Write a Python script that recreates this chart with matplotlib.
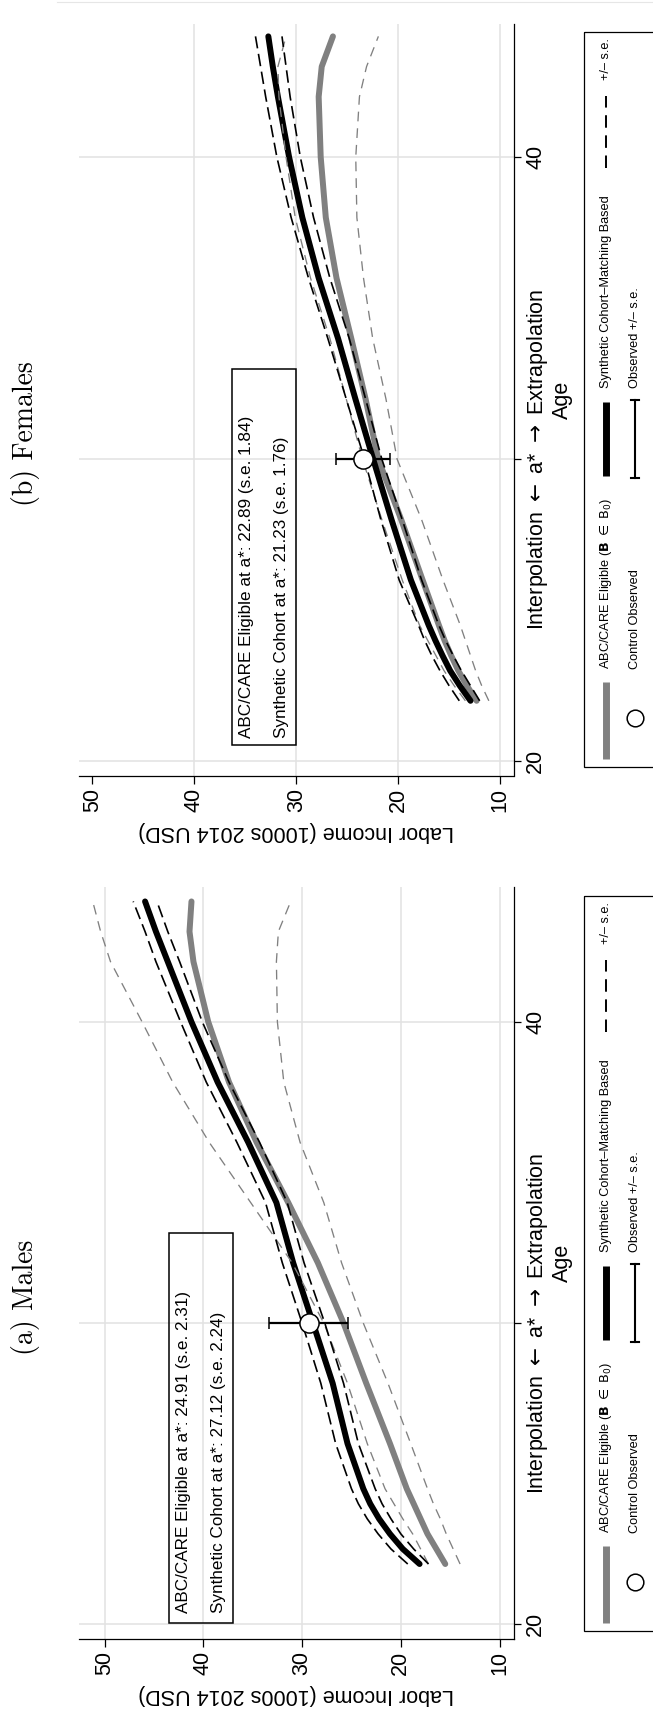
import matplotlib
matplotlib.use('Agg')
import matplotlib.pyplot as plt
from matplotlib.patches import Rectangle

plt.rcParams['font.family'] = ['Liberation Sans', 'DejaVu Sans']
plt.rcParams['lines.scale_dashes'] = False

# ---------------- data ----------------
AGES = [22, 22.5, 23, 23.5, 24, 24.5, 26, 28, 30, 32, 34, 36, 38, 40, 42, 43, 44]

# Males
M_ABC = [15.5, 16.4, 17.3, 18.0, 18.7, 19.4, 21.1, 23.5, 25.8, 28.4, 31.4, 34.6, 37.4, 39.5, 41.0, 41.4, 41.2]
M_ABC_HI = [17.2, 18.0, 18.8, 19.8, 20.7, 21.6, 23.4, 25.4, 27.8, 31.0, 35.2, 39.4, 43.1, 46.2, 49.4, 50.4, 51.2]
M_ABC_LO = [14.0, 14.7, 15.4, 16.0, 16.7, 17.3, 19.0, 21.3, 23.8, 26.0, 27.8, 30.2, 31.85, 32.5, 32.6, 32.4, 31.15]
M_SYN = [18.1, 19.8, 21.1, 22.2, 23.1, 23.8, 25.4, 26.9, 28.9, 30.9, 32.6, 35.45, 38.55, 41.2, 43.6, 44.8, 45.9]
M_SYN_HI = [19.3, 21.0, 22.3, 23.4, 24.3, 25.0, 26.6, 28.1, 30.0, 32.0, 33.7, 36.6, 39.7, 42.3, 44.8, 45.9, 47.1]
M_SYN_LO = [17.2, 18.7, 20.0, 21.0, 21.9, 22.6, 24.3, 25.8, 27.7, 29.8, 31.5, 34.3, 37.4, 40.1, 42.4, 43.6, 44.7]
M_OBS = 29.3
M_OBS_SE = 4.0

# Females
F_ABC = [12.3, 13.25, 14.1, 14.8, 15.45, 16.0, 17.6, 19.7, 21.95, 23.2, 24.6, 26.05, 27.1, 27.6, 27.8, 27.5, 26.4]
F_ABC_HI = [13.4, 14.5, 15.5, 16.3, 17.1, 17.9, 19.6, 21.6, 23.5, 25.1, 26.7, 28.6, 30.1, 31.0, 31.7, 31.8, 31.0]
F_ABC_LO = [11.1, 11.8, 12.4, 12.9, 13.4, 13.9, 15.6, 17.7, 20.1, 21.2, 22.5, 23.4, 24.05, 24.16, 23.8, 23.1, 21.94]
F_SYN = [12.9, 13.95, 14.9, 15.65, 16.35, 17.0, 18.75, 20.65, 22.45, 24.2, 25.9, 27.8, 29.4, 30.7, 31.8, 32.3, 32.74]
F_SYN_HI = [14.0, 15.0, 15.9, 16.7, 17.4, 18.0, 19.9, 21.7, 23.3, 25.1, 26.9, 28.8, 30.5, 31.9, 33.0, 33.5, 34.0]
F_SYN_LO = [12.0, 12.9, 13.8, 14.6, 15.35, 16.0, 17.7, 19.6, 21.6, 23.2, 24.8, 26.7, 28.3, 29.6, 30.6, 31.0, 31.4]
F_OBS = 23.45
F_OBS_SE = 2.65

A_STAR = 30
AGE_TICKS = [20, 30, 40]
AGE_TICK_LABELS = ['20', 'Interpolation $\\leftarrow$ a* $\\rightarrow$ Extrapolation', '40']
INCOME_TICKS = [50, 40, 30, 20, 10]

M_BOX_LINES = ['ABC/CARE Eligible at a*: 24.91 (s.e. 2.31)',
               'Synthetic Cohort at a*: 27.12 (s.e. 2.24)']
F_BOX_LINES = ['ABC/CARE Eligible at a*: 22.89 (s.e. 1.84)',
               'Synthetic Cohort at a*: 21.23 (s.e. 1.76)']

LEGEND_LABELS = ['ABC/CARE Eligible ($\\mathbf{B}$ $\\in$ $\\mathrm{B}_0$)',
                 'Synthetic Cohort\u2013Matching Based',
                 '+/\u2013 s.e.',
                 'Control Observed',
                 'Observed +/\u2013 s.e.']

# ---------------- style ----------------
GRAY = '#808080'
GRID = '#e2e2e2'
W, H = 653, 1711
TICK_FS = 15.5
BOX_FS = 12.3
LEG_FS = 9.2

fig = plt.figure(figsize=(W / 100, H / 100), dpi=100)

# overlay in pixel coordinates (legend, frame line, titles)
ov = fig.add_axes([0, 0, 1, 1])
ov.set_xlim(0, W)
ov.set_ylim(H, 0)
ov.axis('off')


def px_axes(left, top, right, bottom):
    return fig.add_axes([left / W, 1 - bottom / H, (right - left) / W, (bottom - top) / H])


def draw_panel(ax, abc, abc_hi, abc_lo, syn, syn_hi, syn_lo, obs, obs_se,
               xlim, ylim, hide_first_grid, box, box_lines, text_x, text_y):
    ax.set_facecolor('none')
    ax.set_xlim(*xlim)
    ax.set_ylim(*ylim)
    ax.set_xticks(INCOME_TICKS)
    ax.set_xticklabels([str(t) for t in INCOME_TICKS], rotation=90, fontsize=TICK_FS)
    ax.set_yticks(AGE_TICKS)
    ax.yaxis.tick_right()
    ax.set_yticklabels(AGE_TICK_LABELS, rotation=90, fontsize=TICK_FS, va='center')
    ax.tick_params(axis='x', direction='out', length=5.8, width=0.9, pad=3)
    ax.tick_params(axis='y', direction='out', length=5.0, width=0.9, pad=3.5)
    for s in ('top', 'left'):
        ax.spines[s].set_visible(False)
    for s in ('bottom', 'right'):
        ax.spines[s].set_linewidth(0.9)
    ax.grid(True, color=GRID, lw=1.1)
    ax.set_axisbelow(True)
    if hide_first_grid:
        ax.xaxis.get_gridlines()[0].set_visible(False)

    ax.plot(abc, AGES, color=GRAY, lw=4.3, solid_capstyle='round', solid_joinstyle='round', zorder=3)
    ax.plot(syn, AGES, color='black', lw=4.3, solid_capstyle='round', solid_joinstyle='round', zorder=4)
    ax.plot(abc_hi, AGES, color=GRAY, lw=0.95, dashes=(7, 5), zorder=5)
    ax.plot(abc_lo, AGES, color=GRAY, lw=0.95, dashes=(7, 5), zorder=5)
    ax.plot(syn_hi, AGES, color='black', lw=1.2, dashes=(9, 4), zorder=5)
    ax.plot(syn_lo, AGES, color='black', lw=1.2, dashes=(9, 4), zorder=5)
    ax.errorbar([obs], [A_STAR], xerr=[obs_se], fmt='o', ms=13.8, mfc='white',
                mec='black', mew=1.1, ecolor='black', elinewidth=1.6,
                capsize=4.2, capthick=1.6, zorder=10)

    x0, y0, x1, y1 = box
    ax.add_patch(Rectangle((x1, y0), x0 - x1, y1 - y0, fill=False, ec='black', lw=1.1, zorder=6))
    for tx, line in zip(text_x, box_lines):
        ax.text(tx, text_y, line, rotation=90, ha='center', va='bottom', fontsize=BOX_FS, zorder=7)

    ax.text(0.5, -0.074, 'Labor Income (1000s 2014 USD)', transform=ax.transAxes,
            rotation=180, ha='center', va='center', fontsize=TICK_FS)
    ax.text(1.113, 0.5, 'Age', transform=ax.transAxes,
            rotation=90, ha='center', va='center', fontsize=TICK_FS)


def draw_legend(top):
    ov.add_patch(Rectangle((584, top), 200, 735, fill=False, ec='black', lw=0.9, clip_on=False))
    r1, r2 = 606, 635
    ov.plot([r1, r1], [top + 727, top + 650], color=GRAY, lw=5, solid_capstyle='butt')
    ov.text(r1, top + 637, LEGEND_LABELS[0], rotation=90, ha='center', va='bottom', fontsize=LEG_FS)
    ov.plot([r1, r1], [top + 444, top + 370], color='black', lw=5, solid_capstyle='butt')
    ov.text(r1, top + 356, LEGEND_LABELS[1], rotation=90, ha='center', va='bottom', fontsize=LEG_FS)
    ov.plot([r1, r1], [top + 136, top + 64], color='black', lw=1.4, dashes=(9, 5.5))
    ov.text(r1, top + 48, LEGEND_LABELS[2], rotation=90, ha='center', va='bottom', fontsize=LEG_FS)
    ov.plot([r2], [top + 686], 'o', ms=12, mfc='white', mec='black', mew=1.1)
    ov.text(r2, top + 637, LEGEND_LABELS[3], rotation=90, ha='center', va='bottom', fontsize=LEG_FS)
    ov.plot([r2, r2], [top + 446, top + 368], color='black', lw=1.5)
    ov.plot([r2 - 4, r2 + 4], [top + 446, top + 446], color='black', lw=1.5)
    ov.plot([r2 - 4, r2 + 4], [top + 368, top + 368], color='black', lw=1.5)
    ov.text(r2, top + 356, LEGEND_LABELS[4], rotation=90, ha='center', va='bottom', fontsize=LEG_FS)


# thin frame line at top
ov.plot([57, W], [1.5, 1.5], color='#e6e6e6', lw=0.8)

# Females (top)
axf = px_axes(79, 24, 513.5, 776)
draw_panel(axf, F_ABC, F_ABC_HI, F_ABC_LO, F_SYN, F_SYN_HI, F_SYN_LO, F_OBS, F_OBS_SE,
           (51.32, 8.68), (19.51, 44.41), True,
           (36.33, 20.52, 30.02, 33.0), F_BOX_LINES, [34.86, 31.42], 20.77)
draw_legend(32)
ov.text(25, 434, '(b) Females', rotation=90, ha='center', va='center', fontsize=20,
        family='cmr10')

# Males (bottom)
axm = px_axes(79, 887.3, 513.5, 1639)
draw_panel(axm, M_ABC, M_ABC_HI, M_ABC_LO, M_SYN, M_SYN_HI, M_SYN_LO, M_OBS, M_OBS_SE,
           (52.59, 8.59), (19.51, 44.47), False,
           (43.5, 20.05, 36.96, 33.0), M_BOX_LINES, [42.03, 38.48], 20.37)
draw_legend(896)
ov.text(25, 1297, '(a) Males', rotation=90, ha='center', va='center', fontsize=20,
        family='cmr10')

fig.savefig('out.png', dpi=100)
